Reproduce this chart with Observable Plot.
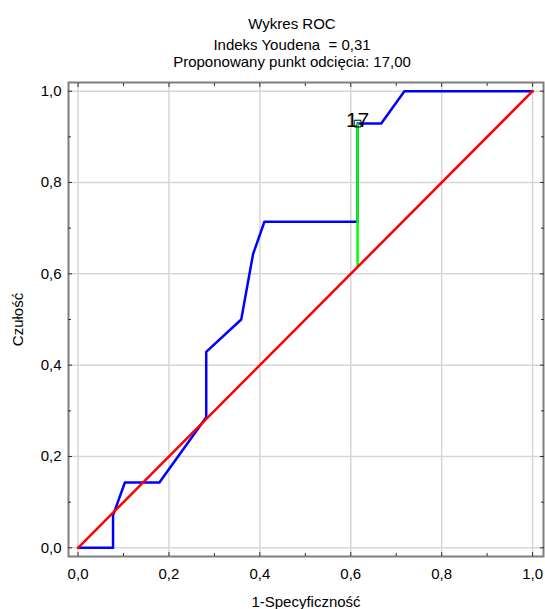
<!DOCTYPE html>
<html><head><meta charset="utf-8">
<script src="https://cdn.jsdelivr.net/npm/d3@7"></script>
<script src="https://cdn.jsdelivr.net/npm/@observablehq/plot@0.6"></script>
<style>
body{margin:0;background:#fff;}
#wrap{position:relative;width:545px;height:609px;font-family:"Liberation Sans",Arial,sans-serif;}
#wrap svg{position:absolute;left:0;top:0;}
.t{position:absolute;left:292px;transform:translateX(-50%);white-space:pre;font-size:15px;line-height:15px;color:#000;}
</style></head><body>
<div id="wrap"></div>
<script>
// ---- data ----
const titleLines = ["Wykres ROC", "Indeks Youdena  = 0,31", "Proponowany punkt odcięcia: 17,00"];
const xLabel = "1-Specyficzność";
const yLabel = "Czułość";
// ROC curve (1 - specificity, sensitivity)
const fpr = [0, 0.077, 0.077, 0.103, 0.179, 0.282, 0.282, 0.359, 0.385, 0.410, 0.615, 0.615, 0.667, 0.718, 1.0];
const tpr = [0, 0, 0.071, 0.143, 0.143, 0.286, 0.429, 0.500, 0.643, 0.714, 0.714, 0.929, 0.929, 1.0, 1.0];
// reference diagonal
const diagX = [0, 1];
const diagY = [0, 1];
// optimal cut-off point (Youden)
const cutFpr = [0.615];
const cutTpr = [0.929];
const cutLabel = ["17"];
// ticks
const majorTicks = [0, 0.2, 0.4, 0.6, 0.8, 1.0];
const minorTicks = [0.1, 0.3, 0.5, 0.7, 0.9];
const tickLabels = ["0,0", "0,2", "0,4", "0,6", "0,8", "1,0"];

const roc = fpr.map((x, i) => ({x, y: tpr[i]}));
const diag = diagX.map((x, i) => ({x, y: diagY[i]}));
const cut = cutFpr.map((x, i) => ({x, y: cutTpr[i], base: x, label: cutLabel[i]}));
const fmt = d => tickLabels[majorTicks.findIndex(t => Math.abs(t - d) < 1e-9)];

const tickStroke = "#333";
const chart = Plot.plot({
  width: 545, height: 609,
  marginTop: 82, marginRight: 2, marginBottom: 53, marginLeft: 68,
  style: {fontFamily: "Liberation Sans, Arial, sans-serif", fontSize: "15px", background: "#fff", color: "#000"},
  x: {domain: [-0.021, 1.024]},
  y: {domain: [-0.019, 1.019]},
  marks: [
    Plot.gridX(majorTicks, {stroke: "#d6d6d6", strokeOpacity: 1, strokeWidth: 1.5}),
    Plot.gridY(majorTicks, {stroke: "#d6d6d6", strokeOpacity: 1, strokeWidth: 1.5}),
    Plot.line(roc, {x: "x", y: "y", stroke: "#0000ff", strokeWidth: 2.5}),
    Plot.ruleX(cut, {x: "x", y1: "base", y2: "y", stroke: "#00ff00", strokeWidth: 2.5}),
    Plot.line(diag, {x: "x", y: "y", stroke: "#ff0000", strokeWidth: 2.5}),
    Plot.dot(cut, {x: "x", y: "y", symbol: "square", r: 3.8, stroke: "#000", strokeWidth: 1, fill: "none"}),
    Plot.text(cut, {x: "x", y: "y", text: "label", lineAnchor: "bottom", dy: 3, fontSize: 21, fontFamily: "Liberation Sans Narrow, Liberation Sans, Arial, sans-serif", fill: "#000"}),
    Plot.frame({stroke: "#7f7f7f", strokeWidth: 2}),
    // inward ticks on all four sides
    Plot.axisX(majorTicks, {anchor: "bottom", tickSize: -4, fill: "none", stroke: tickStroke}),
    Plot.axisX(minorTicks, {anchor: "bottom", tickSize: -3, fill: "none", stroke: tickStroke}),
    Plot.axisX(majorTicks, {anchor: "top", tickSize: -4, fill: "none", stroke: tickStroke}),
    Plot.axisX(minorTicks, {anchor: "top", tickSize: -3, fill: "none", stroke: tickStroke}),
    Plot.axisY(majorTicks, {anchor: "left", tickSize: -4, fill: "none", stroke: tickStroke}),
    Plot.axisY(minorTicks, {anchor: "left", tickSize: -3, fill: "none", stroke: tickStroke}),
    Plot.axisY(majorTicks, {anchor: "right", tickSize: -4, fill: "none", stroke: tickStroke}),
    Plot.axisY(minorTicks, {anchor: "right", tickSize: -3, fill: "none", stroke: tickStroke}),
    // tick labels and axis titles
    Plot.axisX(majorTicks, {anchor: "bottom", tickSize: 0, tickPadding: 12, tickFormat: fmt, label: xLabel, labelAnchor: "center", labelOffset: 50, labelArrow: "none", fill: "#000"}),
    Plot.axisY(majorTicks, {anchor: "left", tickSize: 0, tickPadding: 7, tickFormat: fmt, label: yLabel, labelAnchor: "center", labelOffset: 56, labelArrow: "none", fill: "#000"})
  ]
});
const wrap = document.getElementById("wrap");
wrap.appendChild(chart);
const tops = [15.6, 36.6, 54];
titleLines.forEach((s, i) => {
  const d = document.createElement("div");
  d.className = "t";
  d.style.top = tops[i] + "px";
  d.textContent = s;
  wrap.appendChild(d);
});
</script>
</body></html>
